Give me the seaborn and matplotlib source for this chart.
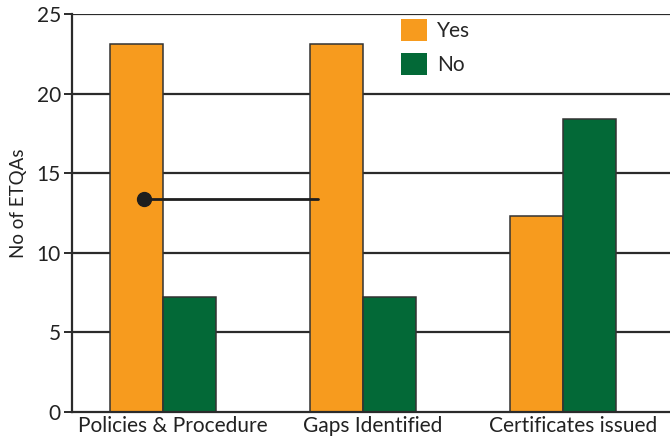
import matplotlib
matplotlib.use("Agg")
import matplotlib.pyplot as plt
import matplotlib.transforms as mtransforms
import seaborn as sns
import pandas as pd

categories = ["Policies & Procedure", "Gaps Identified", "Certificates issued"]
yes_values = [23.1, 23.1, 12.3]
no_values = [7.2, 7.2, 18.4]
series_names = ["Yes", "No"]
y_ticks = [0, 5, 10, 15, 20, 25]

# marker line drawn across the first group
marker_x = [-0.095, 0.775]
marker_y = [13.4, 13.4]

df = pd.DataFrame({
    "category": categories * 2,
    "answer": [series_names[0]] * 3 + [series_names[1]] * 3,
    "count": yes_values + no_values,
})

sns.set_theme(style="white")
plt.rcParams["font.family"] = ["Lato", "DejaVu Sans"]

palette = {"Yes": "#F79B1E", "No": "#036937"}
edge = "#333333"

fig = plt.figure(figsize=(6.7, 4.42), dpi=100)
ax = fig.add_axes([72 / 670, 30 / 442, 598 / 670, 398 / 442])

for y in y_ticks[1:]:
    ax.axhline(y, color="#2b2b2b", lw=1.6, zorder=0)

sns.barplot(data=df, x="category", y="count", hue="answer", palette=palette,
            width=0.53, gap=0, edgecolor=edge, linewidth=1.1, saturation=1,
            ax=ax, zorder=2)

ax.plot(marker_x, marker_y, color="#1e1e1e", lw=2, zorder=4)
ax.plot(marker_x[0], marker_y[0], "o", color="#1e1e1e", ms=10, zorder=5)

ax.set_xlim(-0.455, 2.535)
ax.set_ylim(0, 25)
ax.set_yticks(y_ticks)
ax.set_xlabel("")
ax.set_ylabel("No of ETQAs", fontsize=13.5, color="#222222")
ax.yaxis.set_label_coords(-0.075, 0.525)

for side in ["top", "right"]:
    ax.spines[side].set_visible(False)
for side in ["left", "bottom"]:
    ax.spines[side].set_color("#2b2b2b")
    ax.spines[side].set_linewidth(1.6)

ax.tick_params(axis="y", which="major", direction="out", length=6, width=1.4,
               color="#2b2b2b", labelsize=15, labelcolor="#222222", pad=2, left=True)
ax.tick_params(axis="x", length=0, labelsize=15, labelcolor="#222222", pad=3)

# category labels sit slightly right of their bar groups
shift = mtransforms.ScaledTranslation(0.10, 0, fig.dpi_scale_trans)
for lbl in ax.get_xticklabels():
    lbl.set_transform(lbl.get_transform() + shift)

leg = ax.legend(loc="upper left", bbox_to_anchor=(0.550, 0.987), frameon=False,
                fontsize=15, handlelength=1.25, handleheight=1.25,
                handletextpad=0.5, labelspacing=0.55, borderaxespad=0, borderpad=0)
for h in leg.legend_handles:
    h.set_edgecolor("none")

fig.savefig("out.png", dpi=100)
